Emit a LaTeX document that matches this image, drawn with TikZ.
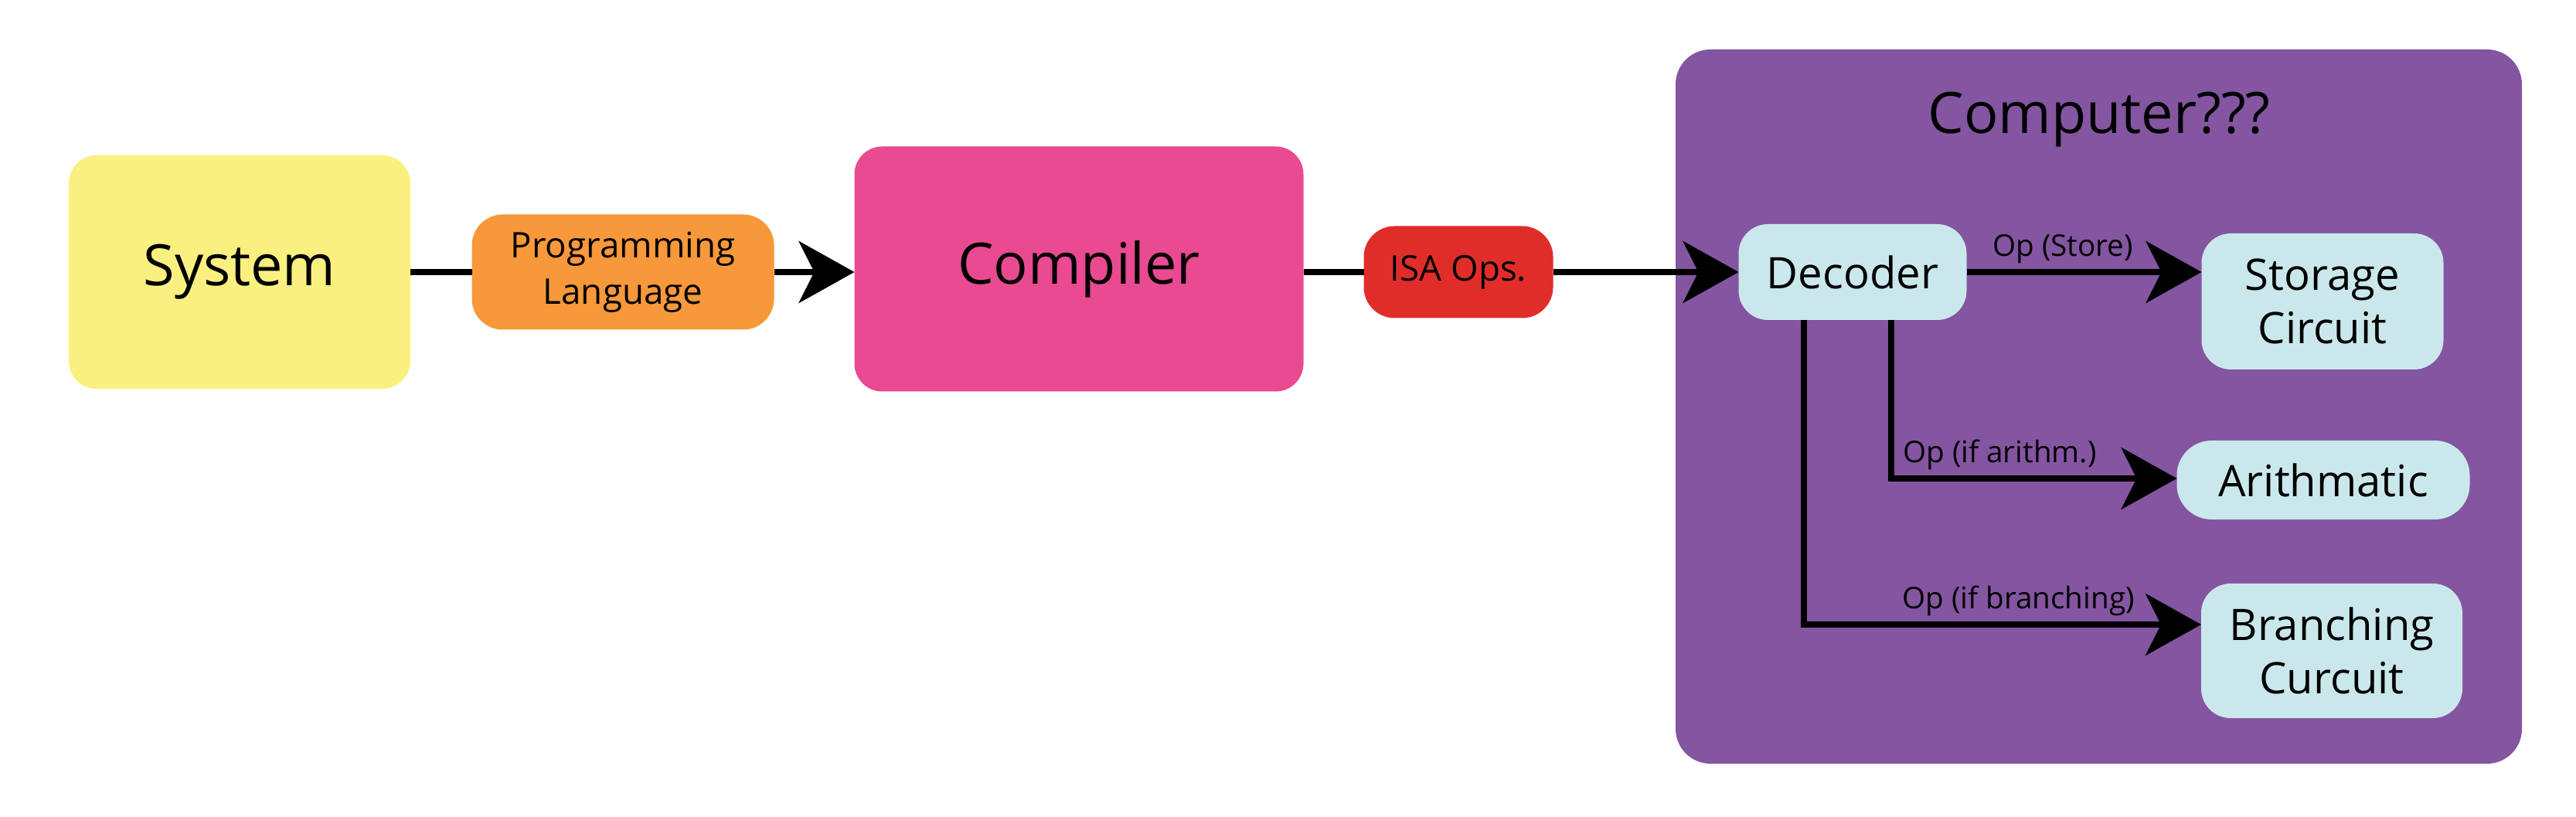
\documentclass[tikz,border=0pt]{standalone}
\usepackage{fontspec}
\setsansfont{Open Sans}
\usepackage{xcolor}
\usetikzlibrary{arrows.meta, positioning}
\definecolor{sysyellow}{RGB}{250,240,128}
\definecolor{langorange}{RGB}{247,152,58}
\definecolor{comppink}{RGB}{233,74,145}
\definecolor{isared}{RGB}{224,45,42}
\definecolor{pcpurple}{RGB}{132,85,161}
\definecolor{partcyan}{RGB}{202,232,236}
\tikzset{
  blk/.style = {align=center, inner sep=0pt, outer sep=0pt, text centered,
    font=\sffamily, text=black},
  bigblk/.style = {blk, rounded corners=0.36cm,
    font=\sffamily\fontsize{21}{25}\selectfont},
  tag/.style = {blk, rounded corners=0.4cm,
    font=\sffamily\fontsize{13}{17}\selectfont},
  part/.style = {blk, fill=partcyan, rounded corners=0.38cm,
    font=\sffamily\fontsize{16}{19.5}\selectfont},
  oplabel/.style = {inner sep=2pt, text=black,
    font=\sffamily\fontsize{11}{13}\selectfont}
}

\begin{document}
\begin{tikzpicture}[>={Stealth[length=7.2mm,width=8mm,inset=2mm]}, line width=2.1pt]
\useasboundingbox (0,0) rectangle (33.33,-10.57);
% the computer
\node [blk, fill=pcpurple, rounded corners=0.45cm, minimum width=10.95cm,
  minimum height=9.24cm] (pc) at (27.155,-5.26) {};
\node [bigblk] (pctitle) at (27.16,-1.55) {Computer???};
% pipeline
\node [bigblk, fill=sysyellow, minimum width=4.42cm, minimum height=3.02cm] (sys) at (3.10,-3.52) {System};
\node [tag, fill=langorange, minimum width=3.91cm, minimum height=1.49cm] (lang) at (8.06,-3.52) {Programming\\Language};
\node [bigblk, fill=comppink, minimum width=5.81cm, minimum height=3.17cm] (comp) at (13.96,-3.48) {Compiler};
\node [tag, fill=isared, minimum width=2.45cm, minimum height=1.19cm] (isa) at (18.87,-3.52) {ISA Ops.};
\node [part, minimum width=2.95cm, minimum height=1.24cm] (dec) at (23.97,-3.52) {Decoder};
\node [part, minimum width=3.13cm, minimum height=1.76cm] (stor) at (30.05,-3.90) {Storage\\Circuit};
\node [part, rounded corners=0.45cm, minimum width=3.79cm, minimum height=1.02cm] (arith) at (30.06,-6.21) {Arithmatic};
\node [part, minimum width=3.38cm, minimum height=1.74cm] (branch) at (30.17,-8.42) {Branching\\Curcuit};

\draw (sys) -- (lang);
\draw [->] (lang) -- (lang -| comp.west);
\draw (comp.east |- isa) -- (isa);
\draw [->] (isa) -- (dec);
\draw [->] (dec) -- (dec -| stor.west) node [oplabel, above, pos=0.41] {Op (Store)};
\draw [->] ([xshift=5mm]dec.south) |- ([yshift=0.2mm]arith.west)
  node [oplabel, above, pos=0.69] {Op (if arithm.)};
\draw [->] ([xshift=-6.3mm]dec.south) |- ([yshift=3.4mm]branch.west)
  node [oplabel, above, pos=0.77] {Op (if branching)};
\end{tikzpicture}
\end{document}
